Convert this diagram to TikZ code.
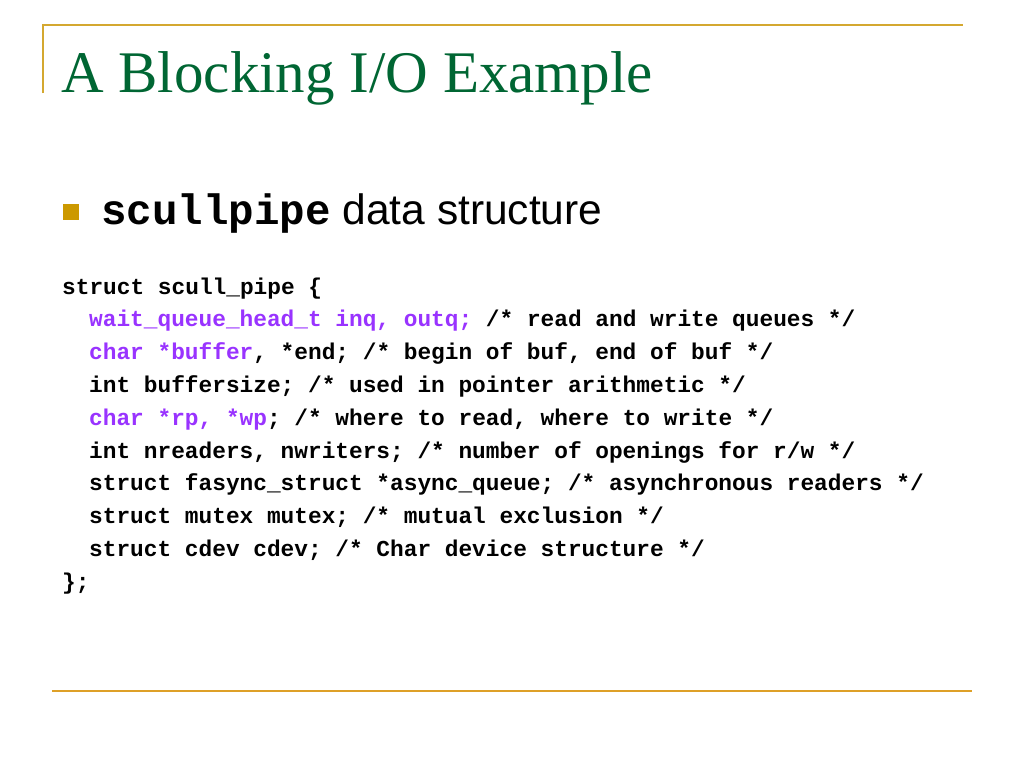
\documentclass[tikz,border=0pt]{standalone}
\usepackage{fontspec}
\setmainfont{Liberation Serif}
\newfontfamily\slidesans{Liberation Sans}
\newfontfamily\slidemono{Liberation Mono}
\definecolor{titlegreen}{RGB}{0,102,51}
\definecolor{rulegold}{RGB}{212,168,48}
\definecolor{lowgold}{RGB}{222,160,40}
\definecolor{bulletgold}{RGB}{204,153,0}
\definecolor{codepurple}{RGB}{153,51,255}
\tikzset{
    codeline/.style={anchor=base west, inner sep=0pt, font=\slidemono\bfseries\fontsize{22.8}{27}\selectfont},
}
\newcommand{\hl}[1]{\textcolor{codepurple}{#1}}

\begin{document}
\begin{tikzpicture}[x=1pt,y=-1pt]
\useasboundingbox (0,0) rectangle (1024,768);
\fill[white] (0,0) rectangle (1024,768);
\draw[rulegold, line width=2pt] (43,93) -- (43,25) -- (963,25);
\draw[lowgold, line width=2pt] (52,691) -- (972,691);

\node[titlegreen, anchor=base west, inner sep=0pt, font=\fontsize{59}{64}\selectfont] (title) at (61,92) {A Blocking I/O Example};

\fill[bulletgold] (63,204) rectangle (79,220);
\node[anchor=base west, inner sep=0pt] (sub) at (101,224) {\fontsize{42.5}{48}\selectfont{\slidemono\bfseries scullpipe}\slidesans{} data structure};

\node[codeline] (c1) at (62,294) {struct scull\_pipe \{};
\node[codeline] (c2) at (89,326.8) {\hl{wait\_queue\_head\_t inq, outq;} /* read and write queues */};
\node[codeline] (c3) at (89,359.6) {\hl{char *buffer}, *end; /* begin of buf, end of buf */};
\node[codeline] (c4) at (89,392.4) {int buffersize; /* used in pointer arithmetic */};
\node[codeline] (c5) at (89,425.2) {\hl{char *rp, *wp}; /* where to read, where to write */};
\node[codeline] (c6) at (89,458) {int nreaders, nwriters; /* number of openings for r/w */};
\node[codeline] (c7) at (89,490.8) {struct fasync\_struct *async\_queue; /* asynchronous readers */};
\node[codeline] (c8) at (89,523.6) {struct mutex mutex; /* mutual exclusion */};
\node[codeline] (c9) at (89,556.4) {struct cdev cdev; /* Char device structure */};
\node[codeline] (c10) at (62,589.2) {\};};
\end{tikzpicture}
\end{document}
